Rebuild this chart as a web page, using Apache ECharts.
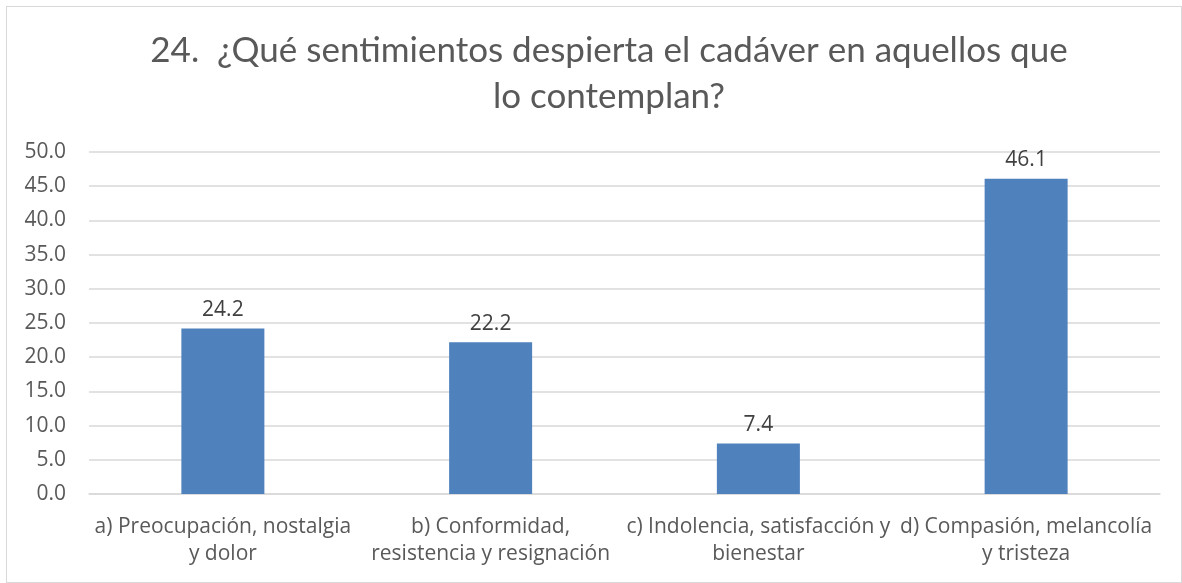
<!DOCTYPE html>
<html><head><meta charset="utf-8">
<script src="https://cdn.jsdelivr.net/npm/echarts@6/dist/echarts.min.js"></script>
<style>html,body{margin:0;padding:0;background:#fff}#c{width:1182px;height:583px}
#frame{position:absolute;left:6px;top:6px;width:1176px;height:577px;border:1.5px solid #d9d9d9;box-sizing:border-box;pointer-events:none}</style>
</head><body><div id="c"></div><div id="frame"></div>
<script>
const titleText = "24.  ¿Qué sentimientos despierta el cadáver en aquellos que\nlo contemplan?";
const categories = ["a) Preocupación, nostalgia\ny dolor", "b) Conformidad,\nresistencia y resignación", "c) Indolencia, satisfacción y\nbienestar", "d) Compasión, melancolía\ny tristeza"];
const values = [24.2, 22.2, 7.4, 46.1];
const yMin = 0, yMax = 50, yStep = 5;
const TFONT = "Lato, 'Open Sans', sans-serif";
const FONT = "'Open Sans', Lato, sans-serif";
const chart = echarts.init(document.getElementById('c'));
chart.setOption({
  animation: false,
  title: { text: titleText, left: 604, top: 23, textAlign: 'center',
    textStyle: { fontFamily: TFONT, fontSize: 35, fontWeight: 'normal', color: '#595959', lineHeight: 46 } },
  grid: { left: 89, right: 22, top: 152, bottom: 89 },
  xAxis: { type: 'category', data: categories,
    axisLine: { lineStyle: { color: '#d9d9d9', width: 1.5 } }, axisTick: { show: false },
    axisLabel: { interval: 0, fontFamily: FONT, fontSize: 21, color: '#595959', lineHeight: 27, margin: 20 } },
  yAxis: { type: 'value', min: yMin, max: yMax, interval: yStep,
    axisLine: { show: false }, axisTick: { show: false },
    splitLine: { lineStyle: { color: '#d9d9d9', width: 1.5 } },
    axisLabel: { fontFamily: FONT, fontSize: 21, color: '#595959', margin: 23, formatter: v => v.toFixed(1) } },
  series: [{ type: 'bar', data: values, barWidth: '31%',
    itemStyle: { color: '#4f81bd' },
    label: { show: true, position: 'top', distance: 8, fontFamily: FONT, fontSize: 21, color: '#404040', formatter: p => p.value.toFixed(1) } }]
});
</script></body></html>
